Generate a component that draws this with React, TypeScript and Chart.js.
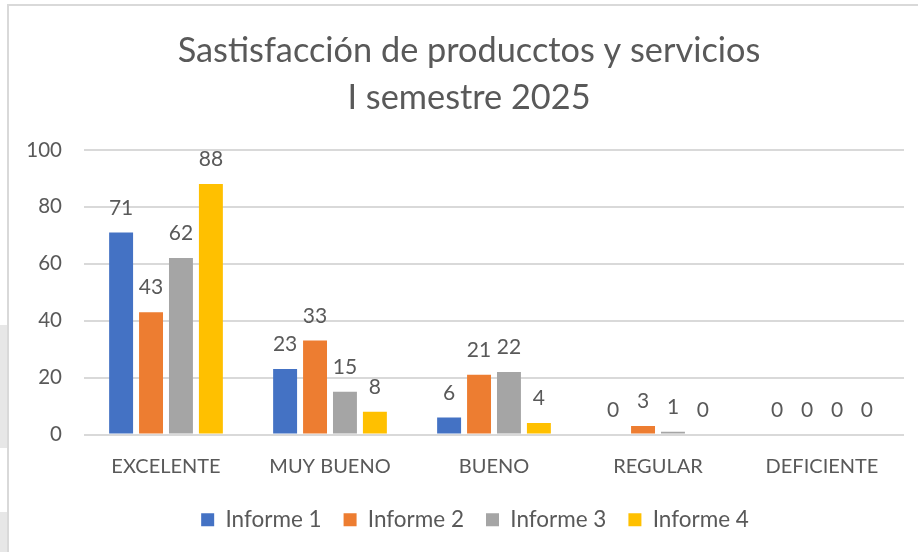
import React, { useEffect, useRef } from "react";
import { Chart, registerables } from "chart.js";

Chart.register(...registerables);

const categories = ["EXCELENTE", "MUY BUENO", "BUENO", "REGULAR", "DEFICIENTE"];
const informe1 = [71, 23, 6, 0, 0];
const informe2 = [43, 33, 21, 3, 0];
const informe3 = [62, 15, 22, 1, 0];
const informe4 = [88, 8, 4, 0, 0];
const seriesNames = ["Informe 1", "Informe 2", "Informe 3", "Informe 4"];
const titleLines = ["Sastisfacción de producctos y servicios", "I semestre 2025"];

const colors = ["#4472C4", "#ED7D31", "#A5A5A5", "#FFC000"];
const textColor = "#595959";
const FONT = "Lato, 'Noto Sans', sans-serif";

const valueLabels = {
  id: "valueLabels",
  afterDatasetsDraw(chart: any) {
    const ctx = chart.ctx;
    ctx.save();
    ctx.font = `21px ${FONT}`;
    ctx.fillStyle = textColor;
    ctx.textAlign = "center";
    ctx.textBaseline = "bottom";
    chart.data.datasets.forEach((ds: any, i: number) => {
      const meta = chart.getDatasetMeta(i);
      meta.data.forEach((el: any, j: number) => {
        const v = ds.data[j];
        ctx.fillText(String(v), el.x, el.y - 14);
      });
    });
    ctx.restore();
  },
};

const shiftBlocks = {
  id: "shiftBlocks",
  afterLayout(chart: any) {
    const t = chart.titleBlock;
    if (t) {
      t.left += 5;
      t.right += 5;
    }
    const l = chart.legend;
    if (l) {
      l.left += 11;
      l.right += 11;
    }
  },
};

export default function App() {
  const ref = useRef<HTMLCanvasElement>(null);
  useEffect(() => {
    if (!ref.current) return;
    const data = [informe1, informe2, informe3, informe4];
    const chart = new Chart(ref.current, {
      type: "bar",
      data: {
        labels: categories,
        datasets: data.map((d, i) => ({
          label: seriesNames[i],
          data: d,
          backgroundColor: colors[i],
          borderWidth: 0,
          categoryPercentage: 0.73,
          barPercentage: 0.8,
        })),
      },
      options: {
        responsive: false,
        animation: false,
        layout: { padding: { left: 15, right: 14, top: 0, bottom: 11 } },
        plugins: {
          title: {
            display: true,
            text: titleLines,
            color: textColor,
            font: { family: FONT, size: 34.3, weight: "normal" as any, lineHeight: 1.37 },
            padding: { top: 20, bottom: 29 },
          },
          legend: {
            position: "bottom",
            labels: {
              color: textColor,
              font: { family: FONT, size: 22.5 },
              boxWidth: 13,
              boxHeight: 13,
              padding: 22,
            },
          },
          tooltip: { enabled: false },
        },
        scales: {
          x: {
            grid: { display: false },
            border: { display: false },
            afterFit: (s: any) => {
              s.height -= 4;
            },
            ticks: { color: textColor, font: { family: FONT, size: 20 }, padding: 12 },
          },
          y: {
            min: 0,
            max: 100,
            afterFit: (s: any) => {
              s.width = 60;
            },
            ticks: { stepSize: 20, color: textColor, font: { family: FONT, size: 20.5 }, padding: 22 },
            grid: { color: "#D9D9D9", lineWidth: 2, drawTicks: false },
            border: { display: false },
          },
        },
      },
      plugins: [valueLabels, shiftBlocks],
    });
    return () => chart.destroy();
  }, []);

  return (
    <div style={{ position: "fixed", left: 0, top: 0, width: 918, height: 552, overflow: "hidden", background: "#fff" }}>
      <div style={{ position: "absolute", left: 0, top: 325, width: 7, height: 123, background: "#E7E7E7" }} />
      <div style={{ position: "absolute", left: 0, top: 512, width: 7, height: 40, background: "#E7E7E7" }} />
      <div style={{ position: "absolute", left: 7, top: 4, width: 920, height: 560, border: "2px solid #D9D9D9", boxSizing: "border-box" }} />
      <canvas ref={ref} width={909} height={545} style={{ position: "absolute", left: 9, top: 7 }} />
    </div>
  );
}
